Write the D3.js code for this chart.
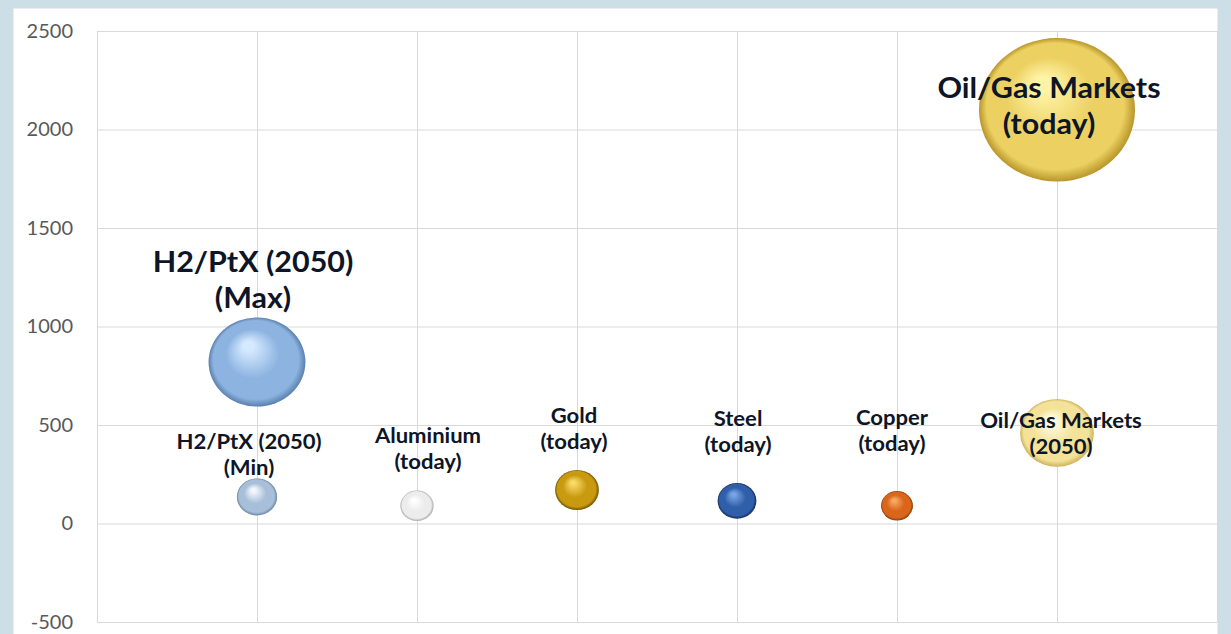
<!DOCTYPE html>
<html>
<head>
<meta charset="utf-8">
<script src="https://cdn.jsdelivr.net/npm/d3@7"></script>
<style>
  html, body { margin: 0; padding: 0; background: #cddfe6; }
  svg { display: block; }
</style>
</head>
<body>
<svg id="chart" width="1231" height="634"></svg>
<script>
// ---- data ----
const labelLine1 = ["H2/PtX (2050)", "H2/PtX (2050)", "Aluminium", "Gold", "Steel", "Copper", "Oil/Gas Markets", "Oil/Gas Markets"];
const labelLine2 = ["(Max)", "(Min)", "(today)", "(today)", "(today)", "(today)", "(2050)", "(today)"];
const xValues = [1, 1, 2, 3, 4, 5, 6, 6];
const yValues = [820, 135, 90, 170, 115, 90, 460, 2100];
const sizeValues = [810, 140, 95, 165, 130, 88, 470, 2100];
const yTicks = [-500, 0, 500, 1000, 1500, 2000, 2500];
const xTicks = [0, 1, 2, 3, 4, 5, 6, 7];

// ---- styles / layout (kept separate from data) ----
const lightCol = ["#d6eaff", "#f2f7fc", "#ffffff", "#f7d964", "#76a3e4", "#f7a862", "#fffbe4", "#fff4a6"];
const baseCol  = ["#8db4e1", "#a7bfd9", "#ececec", "#c99a10", "#2f5fa9", "#d9661b", "#f3e298", "#ecd162"];
const darkCol  = ["#5a80ae", "#6c85a2", "#a9a9a9", "#6c5000", "#132a58", "#8a3a07", "#cdb35e", "#b8952a"];
const bigLabel = [true, false, false, false, false, false, false, true];
const labelDx = [-4, -8, 11, -3, 1, -5, 4, -8];
const labelDy = [-90, -48, -63, -67, -75, -81, -5, -12];

const svg = d3.select("#chart");

// chart area
svg.append("rect").attr("x", 13).attr("y", 8).attr("width", 1205).attr("height", 640)
  .attr("fill", "#ffffff").attr("stroke", "#d9d9d9").attr("stroke-width", 1);

const pLeft = 97, pRight = 1217, pTop = 31, pBottom = 622;
const x = d3.scaleLinear().domain([0, 7]).range([pLeft, pRight]);
const y = d3.scaleLinear().domain([-500, 2500]).range([pBottom, pTop]);
const r = d3.scaleSqrt().domain([0, 2100]).range([0, 78]);

// gridlines
const gx = svg.append("g").attr("transform", `translate(0,${pBottom})`)
  .call(d3.axisBottom(x).tickValues(xTicks).tickSize(-(pBottom - pTop)).tickFormat(""));
gx.select(".domain").remove();
gx.selectAll(".tick line").attr("stroke", "#d9d9d9").attr("stroke-width", 1);

const gy = svg.append("g").attr("transform", `translate(${pLeft},0)`)
  .call(d3.axisLeft(y).tickValues(yTicks).tickSize(-(pRight - pLeft)).tickPadding(24)
    .tickFormat(d => String(d)));
gy.select(".domain").remove();
gy.selectAll(".tick line").attr("stroke", "#d9d9d9").attr("stroke-width", 1);
gy.selectAll(".tick text")
  .attr("fill", "#595959")
  .style("font-family", "Lato, 'Open Sans', sans-serif")
  .style("font-size", "20px");

// gradients
const defs = svg.append("defs");
xValues.forEach((_, i) => {
  const g = defs.append("radialGradient").attr("id", "g" + i)
    .attr("cx", "50%").attr("cy", "50%").attr("r", "50%")
    .attr("fx", "40%").attr("fy", "30%");
  g.append("stop").attr("offset", "0%").attr("stop-color", lightCol[i]);
  g.append("stop").attr("offset", "10%").attr("stop-color", lightCol[i]);
  g.append("stop").attr("offset", "55%").attr("stop-color", baseCol[i]);
  g.append("stop").attr("offset", "88%").attr("stop-color", baseCol[i]);
  g.append("stop").attr("offset", "100%").attr("stop-color", darkCol[i]);
});

const idx = d3.range(xValues.length);

// bubbles
svg.append("g").selectAll("ellipse").data(idx).join("ellipse")
  .attr("cx", i => x(xValues[i]))
  .attr("cy", i => y(yValues[i]))
  .attr("rx", i => r(sizeValues[i]))
  .attr("ry", i => r(sizeValues[i]) * 0.92)
  .attr("fill", i => `url(#g${i})`);

// labels
const labG = svg.append("g").selectAll("g").data(idx).join("g")
  .attr("transform", i => `translate(${x(xValues[i]) + labelDx[i]},${y(yValues[i]) + labelDy[i]}) scale(1.05,1)`);
const lab = labG.append("text")
  .attr("text-anchor", "middle")
  .attr("fill", "#0d1526")
  .style("font-family", "Lato, 'Open Sans', sans-serif")
  .style("font-weight", "bold")
  .style("font-size", i => bigLabel[i] ? "29px" : "21px")
  .attr("x", 0)
  .attr("y", 0);
lab.append("tspan").text(i => labelLine1[i]);
lab.append("tspan")
  .attr("x", 0)
  .attr("dy", i => bigLabel[i] ? 36 : 26)
  .text(i => labelLine2[i]);
</script>
</body>
</html>
